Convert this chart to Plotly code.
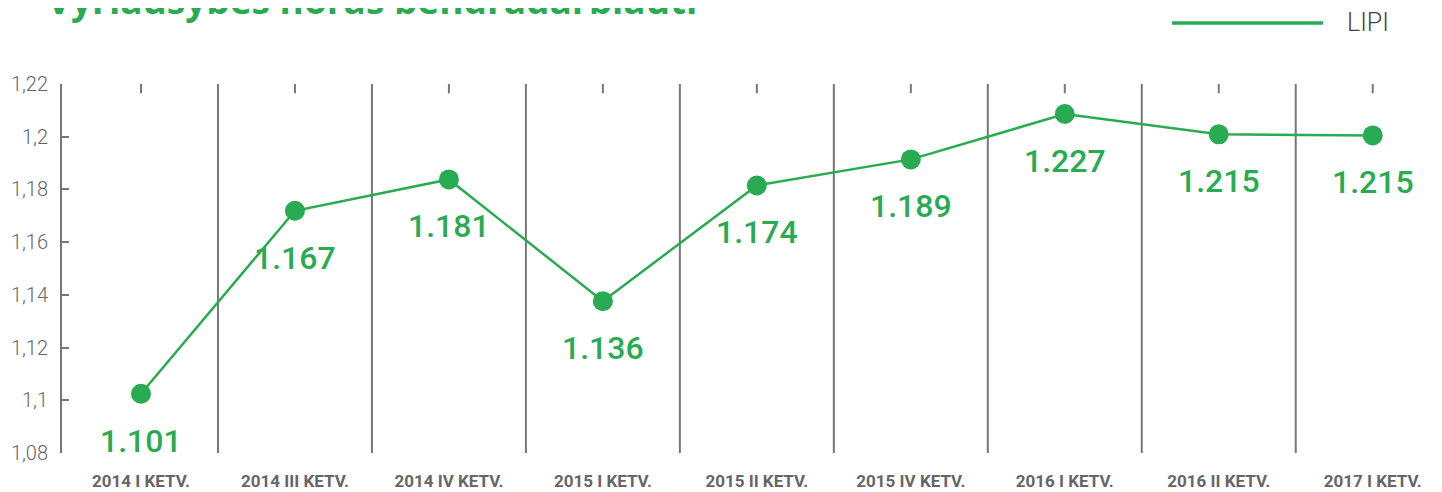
import plotly.graph_objects as go

categories = ["2014 I KETV.", "2014 III KETV.", "2014 IV KETV.", "2015 I KETV.",
              "2015 II KETV.", "2015 IV KETV.", "2016 I KETV.", "2016 II KETV.",
              "2017 I KETV."]
# plotted positions
lipi_values = [1.1025, 1.1719, 1.1838, 1.1376, 1.1815, 1.1914, 1.2086, 1.2009, 1.2005]
# data labels printed on the chart
lipi_labels = ["1.101", "1.167", "1.181", "1.136", "1.174", "1.189", "1.227", "1.215", "1.215"]
y_ticks = [1.08, 1.10, 1.12, 1.14, 1.16, 1.18, 1.20, 1.22]

GREEN = "#29AB52"
GRAY = "#777777"
TXT = "#666666"

fig = go.Figure()
fig.add_trace(go.Scatter(
    x=categories, y=lipi_values, name="LIPI", mode="lines+markers",
    line=dict(color=GREEN, width=2.5),
    marker=dict(color=GREEN, size=20),
    showlegend=False, hoverinfo="skip",
))

for c, v, t in zip(categories, lipi_values, lipi_labels):
    fig.add_annotation(x=c, y=v, xref="x", yref="y", text=t, showarrow=False,
                       yshift=-47, font=dict(family="Roboto", size=32, color=GREEN, weight=500))

# small ticks at top of each category
for c in categories:
    fig.add_shape(type="line", xref="x", yref="paper", x0=c, x1=c, y0=0.975, y1=1.0,
                  line=dict(color=GRAY, width=2))

# vertical separators between categories
for i in range(len(categories) - 1):
    fig.add_shape(type="line", xref="x", yref="paper", x0=i + 0.5, x1=i + 0.5,
                  y0=0, y1=1, line=dict(color=GRAY, width=2), layer="below")

# custom legend
fig.add_shape(type="line", xref="paper", yref="paper", x0=0.8043, x1=0.9138,
              y0=1.1654, y1=1.1654, line=dict(color=GREEN, width=3.5))
fig.add_annotation(xref="paper", yref="paper", x=0.9297, y=1.1654, xanchor="left",
                   yanchor="middle", text="LIPI", showarrow=False,
                   font=dict(family="Roboto", size=25, color="#444444", weight=300))

# title (clipped at top of page)
fig.add_annotation(xref="paper", yref="paper", x=-0.0122, y=1.154, xanchor="left",
                   yanchor="bottom", text="<b>Vyriausybės noras bendradarbiauti</b>",
                   showarrow=False,
                   font=dict(family="Open Sans", size=37, color=GREEN))

fig.update_layout(
    width=1442, height=492,
    margin=dict(l=54, r=8, t=76, b=47, autoexpand=False),
    paper_bgcolor="white", plot_bgcolor="white",
    separators=", ",
    xaxis=dict(
        type="category", range=[-0.513, 8.45], automargin=False,
        showgrid=False, ticks="", showline=False, zeroline=False,
        tickfont=dict(family="Roboto", size=17, color=TXT, weight=700),
        ticklabelstandoff=16,
    ),
    yaxis=dict(
        range=[1.08, 1.22], tickmode="array", tickvals=y_ticks, automargin=False,
        showgrid=False, zeroline=False,
        showline=True, linecolor=GRAY, linewidth=2,
        ticks="inside", ticklen=7, tickwidth=2, tickcolor=GRAY,
        tickfont=dict(family="Roboto", size=20, color=TXT, weight=300),
        ticklabelstandoff=8,
    ),
)

fig.write_html("out.html")
